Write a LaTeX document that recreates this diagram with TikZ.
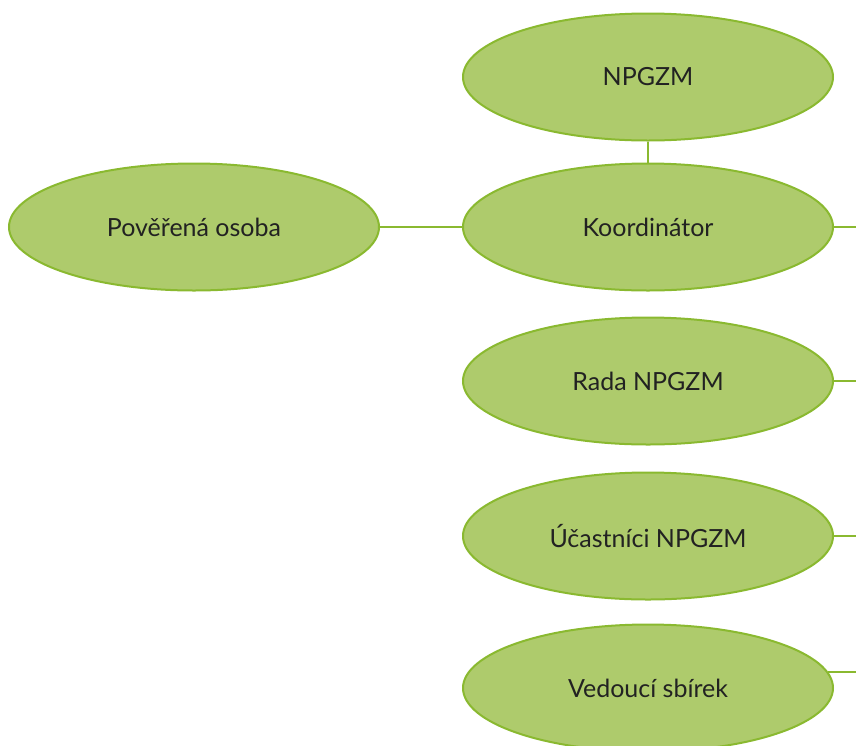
\documentclass[tikz,border=0pt]{standalone}
\usepackage{fontspec}
\setmainfont{Lato}
\usepackage{tikz}
\usetikzlibrary{shapes, positioning}
\definecolor{zelena}{RGB}{174,203,108}
\definecolor{linka}{RGB}{138,185,48}
\definecolor{pismo}{RGB}{34,34,34}
\tikzstyle{uzel} = [ellipse, draw=linka, fill=zelena, line width=2pt, minimum width=370pt, minimum height=127pt, inner sep=0pt, text=pismo, font=\fontsize{25}{29}\selectfont]
\tikzstyle{spoj} = [draw=linka, line width=2.5pt]

\begin{document}
\begin{tikzpicture}[x=1pt, y=-1pt]
		\useasboundingbox (0,0) rectangle (856,745);
		\node [uzel] (npgzm) at (648,77) {NPGZM};
		\node [uzel] (koord) at (648,227) {Koordinátor};
		\node [uzel] (poverena) at (194,227) {Pověřená osoba};
		\node [uzel] (rada) at (648,381) {Rada NPGZM};
		\node [uzel] (ucastnici) at (648,536) {Účastníci NPGZM};
		\node [uzel] (vedouci) at (648,688) {Vedoucí sbírek};
		% volne konce vpravo
		\coordinate (k1) at (862,227);
		\coordinate (k2) at (862,381);
		\coordinate (k3) at (862,536);
		\coordinate (k4) at (862,671);
		\draw [spoj] (npgzm.south) -- (koord.north);
		\draw [spoj] (poverena.east) -- (koord.west);
		\draw [spoj] (koord.east) -- (k1);
		\draw [spoj] (rada.east) -- (k2);
		\draw [spoj] (ucastnici.east) -- (k3);
		\draw [spoj] (vedouci.5.5) -- (vedouci.5.5 -| k4);
	\end{tikzpicture}
\end{document}
